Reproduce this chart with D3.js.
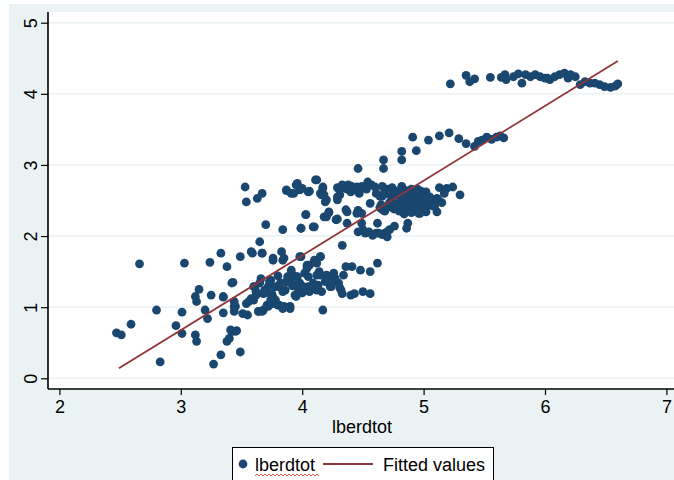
<!DOCTYPE html>
<html>
<head>
<meta charset="utf-8">
<script src="https://cdn.jsdelivr.net/npm/d3@7"></script>
<style>
  body { margin: 0; background: #fff; }
  svg text { font-family: "Liberation Sans Narrow", "Arial Narrow", "Liberation Sans", sans-serif; }
</style>
</head>
<body>
<div id="chart"></div>
<script>
'use strict';
(function(){

	// scatter points: lberdtot (x) vs outcome (y)
	var pointX = [
		2.47, 2.51, 2.59, 2.66, 2.80, 2.83, 2.96, 3.01, 3.01, 3.03, 3.12, 3.13, 3.12, 3.13, 3.15, 3.20, 3.22, 3.24, 3.25, 3.27,
		3.33, 3.33, 3.35, 3.35, 3.38, 3.38, 3.40, 3.42, 3.42, 3.46, 3.44, 3.44, 3.49, 3.49, 3.51, 3.55, 3.53, 3.54, 3.56, 3.58,
		3.58, 3.61, 3.62, 3.63, 3.64, 3.67, 3.65, 3.67, 3.67, 3.68, 3.70, 3.71, 3.72, 3.74, 3.75, 3.76, 3.78, 3.81, 3.81, 3.83,
		3.85, 3.84, 3.85, 3.87, 3.88, 3.87, 3.90, 3.91, 3.93, 3.95, 3.96, 3.96, 3.95, 3.97, 3.99, 3.99, 4.00, 4.02, 4.03, 4.04,
		4.05, 4.05, 4.06, 4.09, 4.10, 4.11, 4.12, 4.13, 4.15, 4.16, 4.17, 4.17, 4.18, 4.19, 4.20, 4.21, 4.22, 4.24, 4.26, 4.28,
		4.29, 4.31, 4.31, 4.33, 4.33, 4.34, 4.36, 4.37, 4.36, 4.38, 4.40, 4.40, 4.41, 4.43, 4.46, 4.45, 4.47, 4.46, 4.48, 4.49,
		4.50, 4.52, 4.54, 4.56, 4.56, 4.56, 4.58, 4.60, 4.61, 4.62, 4.63, 4.65, 4.66, 4.67, 4.68, 4.70, 4.72, 4.76, 4.82, 4.87,
		// lower cluster, extra
		3.60, 3.65, 3.69, 3.73, 3.78, 3.82, 3.86, 3.87, 3.91, 3.95, 3.98, 3.94, 4.01, 4.05, 4.09, 4.12, 4.15, 4.19, 4.23, 4.27,
		4.30, 3.54, 3.60, 3.64, 3.68, 3.72, 3.76, 3.80, 3.84, 3.90, 3.44, 3.45, 3.41, 3.45, 3.59, 3.67, 3.76, 3.84, 3.98, 4.06,
		4.15, 4.12, 3.43, 3.35,
		3.62, 3.70, 3.76, 3.84, 3.92, 4.00, 4.08, 4.16, 4.24, 4.32, 3.66, 3.74, 3.80, 3.90, 4.04, 4.14, 4.26,
		// band 2.0 - 2.8, left part
		3.87, 3.91, 3.95, 3.98, 4.06, 4.12, 4.15, 4.17, 4.20, 4.18, 4.30, 4.03, 3.99, 4.10, 4.20, 4.22, 4.28,
		4.29, 4.33, 4.37, 4.41, 4.45, 4.49, 4.53, 4.57, 4.29, 4.31, 4.37, 4.29, 4.49, 4.45, 4.50, 4.55, 4.61, 4.66, 4.70, 4.86,
		// dense cluster
		4.62, 4.66, 4.70, 4.74, 4.78, 4.82, 4.86, 4.90, 4.94, 4.98, 5.02,
		4.70, 4.74, 4.78, 4.82, 4.86, 4.90, 4.94, 4.98, 5.02, 5.06,
		4.72, 4.76, 4.80, 4.84, 4.88, 4.92, 4.96, 5.00,
		4.68, 4.75, 4.80, 4.85, 4.92, 4.97, 4.64, 4.88, 4.95,
		5.13, 5.19, 5.24, 5.30, 5.11, 5.05, 5.12, 5.15, 5.05, 5.11, 4.97, 4.89, 5.09, 5.17, 5.02, 5.08,
		4.64, 4.68, 4.72, 4.76, 4.80, 4.84, 4.88, 4.92, 4.96, 5.00, 5.04,
		4.66, 4.70, 4.74, 4.78, 4.82, 4.86, 4.90, 4.94, 4.98, 5.02,
		4.78, 4.84, 4.90, 4.96, 5.02,
		// 3.2 - 3.45 row
		4.46, 4.67, 4.82, 4.94, 5.04, 5.13, 5.21, 5.29, 5.35, 5.42, 5.45, 5.48, 5.52, 5.56, 5.60, 5.63, 5.66,
		// top row
		4.91, 5.22, 5.35, 5.38, 5.42, 5.55, 5.64, 5.67, 5.68, 5.74, 5.78, 5.84, 5.88, 5.92, 5.96, 6.00, 6.04, 6.08, 6.12,
		6.16, 6.21, 6.25, 6.19, 6.29, 6.33, 6.37, 6.41, 6.45, 6.49, 6.54, 6.58, 6.60, 5.81, 6.02
	];
	var pointY = [
		0.64, 0.61, 0.76, 1.61, 0.96, 0.23, 0.74, 0.93, 0.63, 1.62, 0.61, 0.52, 1.15, 1.08, 1.25, 0.96, 0.84, 1.63, 1.17, 0.20,
		1.76, 0.33, 0.92, 1.15, 1.57, 0.52, 0.56, 1.34, 0.66, 0.67, 1.01, 1.08, 0.37, 1.71, 0.91, 0.89, 2.69, 2.48, 1.08, 1.12,
		1.78, 1.29, 1.22, 2.53, 0.94, 0.94, 1.92, 2.60, 1.76, 1.19, 2.16, 1.03, 1.29, 1.38, 1.19, 1.66, 1.10, 1.03, 1.29, 1.78,
		1.69, 2.09, 1.01, 1.36, 1.43, 2.64, 1.01, 1.52, 2.60, 1.15, 2.74, 1.43, 1.31, 1.24, 2.11, 1.71, 2.67, 1.48, 2.30, 1.59,
		2.62, 1.29, 1.22, 2.13, 1.66, 2.79, 1.45, 1.31, 1.71, 2.58, 0.96, 2.69, 2.27, 2.48, 1.45, 1.36, 2.34, 1.29, 1.43, 2.23,
		2.51, 2.65, 1.27, 1.19, 1.87, 1.45, 2.37, 2.18, 1.57, 2.72, 2.62, 1.17, 1.57, 1.19, 2.95, 2.69, 2.60, 2.06, 1.52, 2.32,
		1.22, 2.04, 2.76, 2.46, 1.19, 1.50, 2.01, 2.69, 2.60, 1.62, 2.04, 2.44, 2.37, 3.07, 2.04, 1.99, 2.09, 2.14, 3.19, 2.18,
		1.29, 1.34, 1.24, 1.36, 1.29, 1.34, 1.24, 1.36, 1.48, 1.43, 1.34, 1.17, 1.29, 1.43, 1.34, 1.24, 1.45, 1.36, 1.29, 1.41,
		1.34, 1.05, 1.10, 0.94, 0.96, 1.01, 1.05, 1.03, 0.98, 0.98, 0.94, 1.01, 0.68, 0.66, 1.76, 1.76, 1.69, 1.66, 1.71, 1.59,
		1.71, 1.62, 1.35, 1.14,
		1.17, 1.20, 1.14, 1.22, 1.30, 1.20, 1.26, 1.22, 1.32, 1.24, 1.40, 1.10, 1.44, 1.38, 1.55, 1.50, 1.48,
		2.65, 2.60, 2.72, 2.65, 2.63, 2.79, 2.60, 2.67, 2.51, 2.58, 2.67, 2.30, 2.11, 2.13, 2.27, 2.33, 2.23,
		2.68, 2.72, 2.66, 2.70, 2.64, 2.70, 2.66, 2.72, 2.55, 2.58, 2.34, 2.24, 2.18, 2.32, 2.09, 2.06, 2.04, 2.02, 2.06, 2.11, 2.18,
		2.70, 2.66, 2.68, 2.62, 2.70, 2.64, 2.66, 2.60, 2.63, 2.58, 2.62,
		2.50, 2.45, 2.52, 2.48, 2.55, 2.44, 2.50, 2.46, 2.52, 2.47,
		2.38, 2.35, 2.40, 2.37, 2.42, 2.36, 2.40, 2.35,
		2.57, 2.58, 2.60, 2.56, 2.55, 2.56, 2.62, 2.66, 2.68,
		2.67, 2.69, 2.58, 2.53, 2.55, 2.51, 2.47, 2.44, 2.34, 2.32, 2.37, 2.42, 2.60, 2.62, 2.42, 2.40,
		2.62, 2.58, 2.64, 2.56, 2.60, 2.52, 2.60, 2.55, 2.58, 2.54, 2.56,
		2.42, 2.40, 2.44, 2.42, 2.45, 2.48, 2.40, 2.44, 2.42, 2.40,
		2.31, 2.33, 2.32, 2.34, 2.36,
		2.95, 3.07, 3.20, 3.35, 3.41, 3.45, 3.37, 3.30, 3.26, 3.33, 3.35, 3.39, 3.36, 3.39, 3.41, 3.38, 3.39,
		4.14, 4.26, 4.17, 4.21, 4.23, 4.23, 4.27, 4.20, 4.24, 4.28, 4.27, 4.24, 4.27, 4.24, 4.22, 4.20, 4.24, 4.27, 4.29,
		4.27, 4.24, 4.22, 4.13, 4.17, 4.15, 4.15, 4.13, 4.10, 4.09, 4.11, 4.14, 4.15, 4.22, 4.22
	];

	// fitted values (two ends of the regression line)
	var fitX = [2.49, 6.60];
	var fitY = [0.14, 4.46];

	var xTicks = [2, 3, 4, 5, 6, 7];
	var yTicks = [0, 1, 2, 3, 4, 5];
	var xTitle = 'lberdtot';
	var legendLabels = ['lberdtot', 'Fitted values'];

	var navy = '#1a476f';
	var maroon = '#90353b';
	var bluishGray = '#eaf2f3';

	var width = 674, height = 480;
	var plotLeft = 48, plotTop = 12, plotBottom = 389;
	var fontSize = 18;

	var svg = d3.select('#chart')
		.append('svg')
		.attr('width', width)
		.attr('height', height);

	// graph region
	svg.append('rect')
		.attr('x', 9).attr('y', 4)
		.attr('width', width - 9).attr('height', height - 4)
		.attr('fill', bluishGray);

	// plot region
	svg.append('rect')
		.attr('x', plotLeft).attr('y', plotTop)
		.attr('width', width - plotLeft).attr('height', plotBottom - plotTop)
		.attr('fill', '#fff');

	var x = d3.scaleLinear().domain([2, 7]).range([59.4, 666.4]);
	var y = d3.scaleLinear().domain([0, 5]).range([378.3, 22.7]);

	// grid lines
	svg.append('g')
		.selectAll('line')
		.data(yTicks)
		.enter()
		.append('line')
		.attr('x1', plotLeft)
		.attr('x2', width)
		.attr('y1', function (d) { return y(d); })
		.attr('y2', function (d) { return y(d); })
		.attr('stroke', bluishGray)
		.attr('stroke-width', 1.6);

	// points
	var points = d3.zip(pointX, pointY);
	svg.append('g')
		.selectAll('circle')
		.data(points)
		.enter()
		.append('circle')
		.attr('cx', function (d) { return x(d[0]); })
		.attr('cy', function (d) { return y(d[1]); })
		.attr('r', 4.4)
		.attr('fill', navy);

	// fitted line
	svg.append('path')
		.datum(d3.zip(fitX, fitY))
		.attr('d', d3.line()
			.x(function (d) { return x(d[0]); })
			.y(function (d) { return y(d[1]); }))
		.attr('stroke', maroon)
		.attr('stroke-width', 1.8)
		.attr('fill', 'none');

	// axes
	var xAxis = svg.append('g')
		.attr('transform', 'translate(0,' + plotBottom + ')')
		.call(d3.axisBottom(x).tickValues(xTicks).tickFormat(d3.format('d'))
			.tickSize(6).tickSizeOuter(0).tickPadding(5));
	xAxis.select('.domain').remove();
	xAxis.selectAll('.tick line').attr('stroke', '#000').attr('stroke-width', 1.2);
	xAxis.selectAll('.tick text').attr('font-size', fontSize).attr('fill', '#000')
		.attr('font-family', null);

	var yAxis = svg.append('g')
		.attr('transform', 'translate(' + plotLeft + ',0)')
		.call(d3.axisLeft(y).tickValues(yTicks).tickFormat(d3.format('d'))
			.tickSize(7).tickSizeOuter(0));
	yAxis.select('.domain').remove();
	yAxis.selectAll('.tick line').attr('stroke', '#000').attr('stroke-width', 1.2);
	yAxis.selectAll('.tick text')
		.attr('font-size', fontSize).attr('fill', '#000').attr('font-family', null)
		.attr('x', null).attr('dy', null)
		.attr('text-anchor', 'middle')
		.attr('transform', 'translate(-17,0) rotate(-90)')
		.attr('y', 0)
		.attr('dominant-baseline', 'central');

	// axis lines
	svg.append('line')
		.attr('x1', plotLeft).attr('x2', plotLeft)
		.attr('y1', plotTop).attr('y2', plotBottom)
		.attr('stroke', '#000').attr('stroke-width', 1.6);
	svg.append('line')
		.attr('x1', plotLeft).attr('x2', width)
		.attr('y1', plotBottom).attr('y2', plotBottom)
		.attr('stroke', '#000').attr('stroke-width', 1.6);

	svg.append('text')
		.attr('x', 362).attr('y', 433)
		.attr('text-anchor', 'middle')
		.attr('font-size', fontSize)
		.text(xTitle);

	// legend
	var legend = svg.append('g');
	legend.append('rect')
		.attr('x', 232.5).attr('y', 447.5)
		.attr('width', 261).attr('height', 40)
		.attr('fill', '#fff').attr('stroke', '#000').attr('stroke-width', 1);
	legend.append('circle')
		.attr('cx', 243).attr('cy', 464).attr('r', 4.4).attr('fill', navy);
	legend.append('text')
		.attr('x', 255).attr('y', 470.5)
		.attr('font-size', fontSize)
		.text(legendLabels[0]);
	// spell-check squiggle under the first label
	var squiggle = d3.range(255, 320, 2).map(function (v, i) {
		return [v, i % 2 ? 474 : 476];
	});
	legend.append('path')
		.attr('d', d3.line()(squiggle))
		.attr('stroke', '#e03030').attr('stroke-width', 0.8).attr('fill', 'none');
	legend.append('line')
		.attr('x1', 323).attr('x2', 373).attr('y1', 464).attr('y2', 464)
		.attr('stroke', maroon).attr('stroke-width', 1.8);
	legend.append('text')
		.attr('x', 383).attr('y', 470.5)
		.attr('font-size', fontSize)
		.text(legendLabels[1]);

}());
</script>
</body>
</html>
